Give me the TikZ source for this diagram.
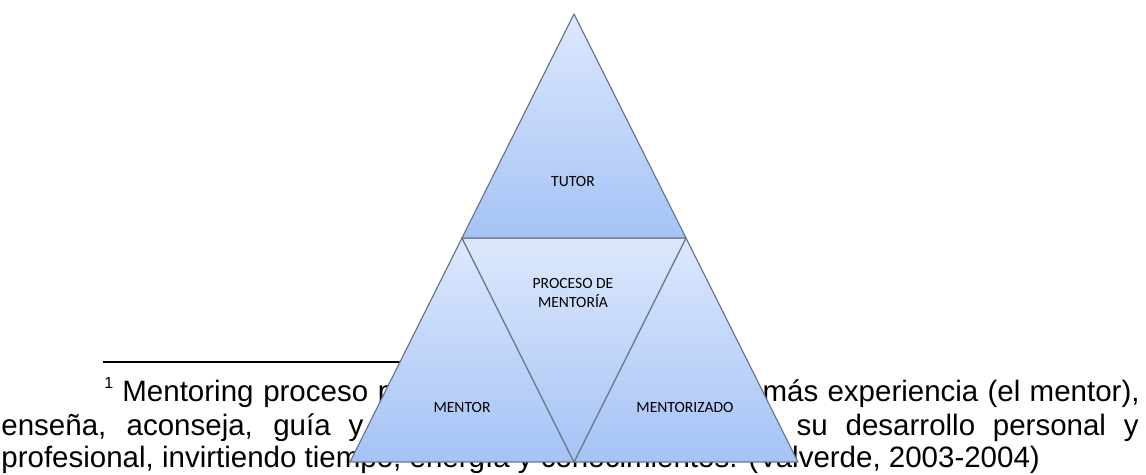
\documentclass[tikz,border=0pt]{standalone}
\usepackage{fontspec}
\setmainfont{Liberation Sans}
\newfontfamily\calibrifont{Carlito}
\definecolor{triTop}{HTML}{DDE8FC}
\definecolor{triBot}{HTML}{A5C3F6}
\definecolor{triEdge}{HTML}{6E7A8E}
\tikzset{
  tri/.style={top color=triTop, bottom color=triBot, draw=triEdge, line width=0.6pt, line join=round},
  lbl/.style={font=\calibrifont\fontsize{7.8}{9.4}\selectfont, align=center, inner sep=0pt},
  fn/.style={font=\fontsize{14.75}{17}\selectfont, inner sep=0pt, anchor=base west}
}
\begin{document}
\begin{tikzpicture}[x=0.5pt,y=-0.5pt]
    \useasboundingbox (0,0) rectangle (1146,475);
    % footnote behind the figure
    \coordinate (ruleL) at (103,362);
    \coordinate (ruleR) at (400,362);
    \draw[line width=0.75pt] (ruleL)--(ruleR);
    \node[fn] (sup) at (104,389) {\fontsize{8}{9}\selectfont 1};
    \node[fn] (lineAa) at (122,402) {\makebox[136pt][s]{Mentoring proceso p}};
    \node[fn,anchor=base east] (lineAb) at (1140,402) {\makebox[188.5pt][s]{más experiencia (el mentor),}};
    \node[fn] (lineBa) at (1,436) {\makebox[181pt][s]{enseña, aconseja, guía y}};
    \node[fn,anchor=base east] (lineBb) at (1139,436) {\makebox[188pt][s]{n su desarrollo personal y}};
    \node[fn] (lineC) at (1,468) {profesional, invirtiendo tiempo, energía y conocimientos. (Valverde, 2003-2004)};
    % triangle corners
    \coordinate (T) at (574,14);
    \coordinate (A) at (462,238);
    \coordinate (B) at (686,238);
    \coordinate (L) at (350,462);
    \coordinate (M) at (574,462);
    \coordinate (R) at (798,462);
    \path[tri] (A)--(L)--(M)--cycle;
    \path[tri] (B)--(M)--(R)--cycle;
    \path[tri] (A)--(B)--(M)--cycle;
    \path[tri] (T)--(A)--(B)--cycle;
    % labels
    \node[lbl] (tutor) at (573,181) {TUTOR};
    \node[lbl] (proceso) at (573,293) {PROCESO DE\\MENTORÍA};
    \node[lbl] (mentor) at (462,407) {MENTOR};
    \node[lbl] (mentorizado) at (685,407) {MENTORIZADO};
\end{tikzpicture}
\end{document}
